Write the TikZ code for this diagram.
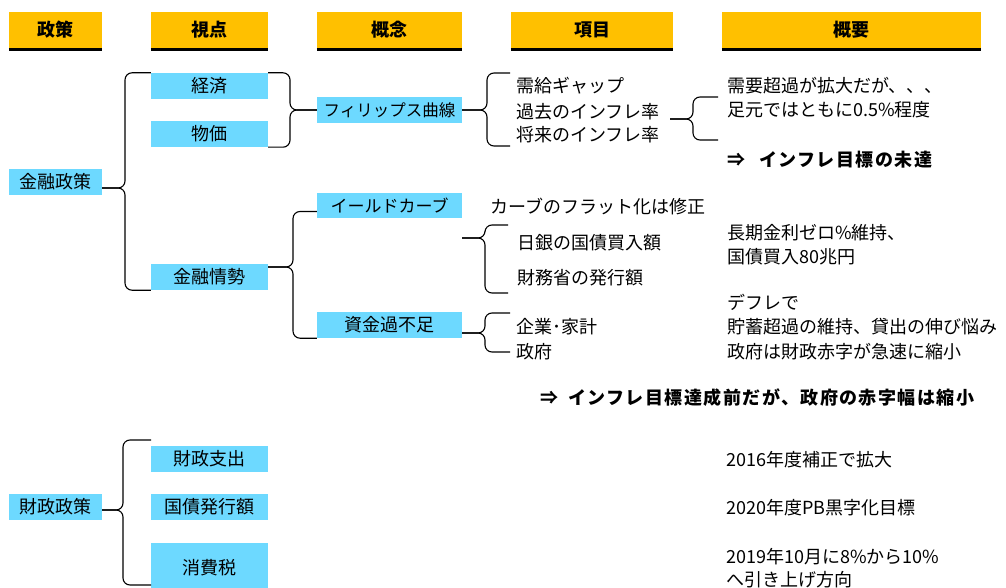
\documentclass[tikz,border=0pt]{standalone}
\usepackage{fontspec}
\setmainfont{Noto Sans CJK JP}
\usetikzlibrary{calc}
\definecolor{hdr}{RGB}{255,192,0}
\definecolor{blu}{RGB}{109,217,255}
\newcommand\brc[4]{%
  \draw[brcline] (#2) -- (#4 |- #2) -- (#4 |- #1) -- (#1);
  \draw[brcline] (#3) -- (#4 |- #3) -- (#4 |- #1) -- (#1);}
\begin{document}
\begin{tikzpicture}[x=1pt,y=-1pt,
  hdrbox/.style={fill=hdr, minimum height=36pt, inner sep=0pt, font=\fontsize{18}{20}\selectfont\bfseries},
  hdrline/.style={line width=2.5pt, black},
  bluebox/.style={fill=blu, minimum height=26pt, inner sep=0pt, font=\fontsize{18}{20}\selectfont},
  txt/.style={anchor=west, inner sep=0pt, font=\fontsize{18}{20}\selectfont},
  btxt/.style={anchor=west, inner sep=0pt, font=\fontsize{18}{20}\selectfont\bfseries\addfontfeatures{LetterSpace=8}},
  brcline/.style={line width=1.1pt, rounded corners=7pt}]
\useasboundingbox (0,0) rectangle (1006,588);
\clip (0,0) rectangle (1006,588);
% headers
\node[hdrbox, minimum width=93pt] (h1) at (55.5,30) {政策};
\node[hdrbox, minimum width=117pt] (h2) at (209.5,30) {視点};
\node[hdrbox, minimum width=145pt] (h3) at (389.5,30) {概念};
\node[hdrbox, minimum width=162pt] (h4) at (592,30) {項目};
\node[hdrbox, minimum width=259pt] (h5) at (851.5,30) {概要};
\foreach \h in {h1,h2,h3,h4,h5}
  \draw[hdrline] ([yshift=-1.2pt]\h.south west) -- ([yshift=-1.2pt]\h.south east);
% blue boxes
\node[bluebox, minimum width=93pt] (kseisaku) at (55.5,182) {金融政策};
\node[bluebox, minimum width=117pt] (keizai) at (209.5,86) {経済};
\node[bluebox, minimum width=117pt] (bukka) at (209.5,134) {物価};
\node[bluebox, minimum width=117pt] (kjosei) at (209.5,277) {金融情勢};
\node[bluebox, minimum width=145pt, font=\fontsize{16.5}{20}\selectfont] (phillips) at (389.5,110) {フィリップス曲線};
\node[bluebox, minimum width=145pt, minimum height=25pt, font=\fontsize{17}{20}\selectfont] (yield) at (389.5,205.5) {イールドカーブ};
\node[bluebox, minimum width=145pt] (shikin) at (389.5,325) {資金過不足};
\node[bluebox, minimum width=93pt] (zseisaku) at (55.5,507) {財政政策};
\node[bluebox, minimum width=117pt] (shishutsu) at (209.5,459) {財政支出};
\node[bluebox, minimum width=117pt] (kokusai) at (209.5,507) {国債発行額};
\node[bluebox, minimum width=117pt, minimum height=50pt] (shohi) at (209.5,568) {消費税};
% item texts
\node[txt] (i1) at (516,86) {需給ギャップ};
\node[txt] (i2) at (516,112) {過去のインフレ率};
\node[txt] (i3) at (516,135) {将来のインフレ率};
\node[txt] (i4) at (490,207) {カーブのフラット化は修正};
\node[txt] (i5) at (517,243) {日銀の国債買入額};
\node[txt] (i6) at (517,278) {財務省の発行額};
\node[txt] (i7) at (516,327) {企業･家計};
\node[txt] (i8) at (516,352) {政府};
% summary texts
\node[txt] (s1) at (727,86) {需要超過が拡大だが、、、};
\node[txt] (s2) at (727,110) {足元ではともに0.5\%程度};
\node[btxt] (s3) at (727,160) {⇒\hspace{14pt}インフレ目標の未達};
\node[txt] (s4) at (727,233) {長期金利ゼロ\%維持、};
\node[txt] (s5) at (727,257) {国債買入80兆円};
\node[txt] (s6) at (727,302) {デフレで};
\node[txt] (s7) at (727,327) {貯蓄超過の維持、貸出の伸び悩み};
\node[txt] (s8) at (727,352) {政府は財政赤字が急速に縮小};
\node[btxt] (s9) at (540,398) {⇒\hspace{10pt}インフレ目標達成前だが、政府の赤字幅は縮小};
\node[txt] (s10) at (726,460) {2016年度補正で拡大};
\node[txt] (s11) at (726,508) {2020年度PB黒字化目標};
\node[txt] (s12) at (726,557) {2019年10月に8\%から10\%};
\node[txt] (s13) at (726,580) {へ引き上げ方向};
% brace coordinates
\coordinate (bx1) at (125,0);
\coordinate (bx2) at (290,0);
\coordinate (bx3) at (487,0);
\coordinate (bx4) at (693,0);
\coordinate (bx5) at (293,0);
\coordinate (bx6) at (485,0);
\coordinate (bx7) at (485,0);
\coordinate (bx8) at (123,0);
\coordinate (n1) at ([yshift=-6pt]kseisaku.east);
\coordinate (n5) at ([yshift=10pt]kjosei.east);
\coordinate (t5a) at ([yshift=-6pt]yield.west);
\coordinate (n7) at ([yshift=-8pt]shikin.east);
\coordinate (n8) at ([yshift=-3pt]zseisaku.east);
\coordinate (t3a) at (510,73);
\coordinate (t3b) at (510,146);
\coordinate (n4) at (670,119);
\coordinate (t4a) at (718,97);
\coordinate (t4b) at (718,140);
\coordinate (n6) at (462,238);
\coordinate (t6a) at (508,225);
\coordinate (t6b) at (508,293);
\coordinate (t7a) at (510,313);
\coordinate (t7b) at (510,352);
\coordinate (t8a) at (151,440);
\coordinate (t8b) at (151,585);
% braces
\brc{n1}{keizai.north west}{kjosei.south west}{bx1}
\brc{phillips.west}{keizai.north east}{bukka.south east}{bx2}
\brc{phillips.east}{t3a}{t3b}{bx3}
\brc{n4}{t4a}{t4b}{bx4}
\brc{n5}{t5a}{shikin.south west}{bx5}
\brc{n6}{t6a}{t6b}{bx6}
\brc{n7}{t7a}{t7b}{bx7}
\brc{n8}{t8a}{t8b}{bx8}
\end{tikzpicture}
\end{document}
